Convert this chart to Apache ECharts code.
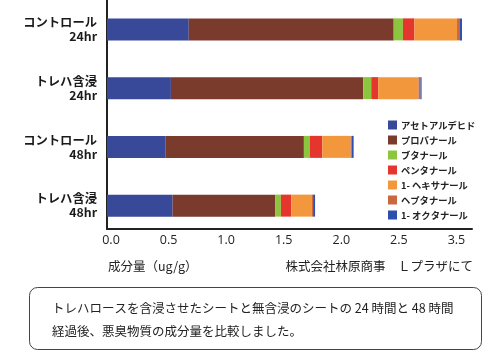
<!DOCTYPE html>
<html><head><meta charset="utf-8">
<script src="https://cdn.jsdelivr.net/npm/echarts@6/dist/echarts.min.js"></script>
<style>html,body{margin:0;padding:0;background:#fff}#c{width:500px;height:357px}</style>
</head><body><div id="c"></div>
<script>
var categories = ['コントロール\n24hr', 'トレハ含浸\n24hr', 'コントロール\n48hr', 'トレハ含浸\n48hr'];
var seriesNames = ['アセトアルデヒド', 'プロパナール', 'ブタナール', 'ペンタナール', '1- ヘキサナール', 'ヘプタナール', '1- オクタナール'];
var acetaldehyde = [0.71, 0.555, 0.51, 0.57];
var propanal = [1.78, 1.67, 1.20, 0.89];
var butanal = [0.08, 0.07, 0.05, 0.05];
var pentanal = [0.10, 0.06, 0.11, 0.09];
var hexanal = [0.37, 0.35, 0.245, 0.18];
var heptanal = [0.026, 0.017, 0.01, 0.01];
var octanal = [0.017, 0.01, 0.017, 0.017];
var tickLabels = ['0.0', '0.5', '1.0', '1.5', '2.0', '2.5', '3.5'];
var colors = ['#38499a', '#7a3a2c', '#8cc63e', '#e4362c', '#f3973d', '#c9673f', '#2c4fae'];
var valuesList = [acetaldehyde, propanal, butanal, pentanal, hexanal, heptanal, octanal];

var FONT = '"Noto Sans CJK JP", "Noto Sans", sans-serif';
var chart = echarts.init(document.getElementById('c'));
var series = seriesNames.map(function (n, i) {
  return {
    name: n, type: 'bar', stack: 'total', data: valuesList[i],
    barWidth: 22, xAxisIndex: 0, yAxisIndex: 0,
    itemStyle: { color: colors[i] }
  };
});
chart.setOption({
  animation: false,
  textStyle: { fontFamily: FONT },
  grid: [
    { left: 107, right: 28, top: -4, bottom: 122 },
    { left: 107, right: 28, top: 0, bottom: 128 }
  ],
  xAxis: [
    { gridIndex: 0, type: 'value', min: 0, max: 3.17, show: false },
    { gridIndex: 1, type: 'value', min: 0, max: 3.17, interval: 0.5,
      axisLine: { show: true, lineStyle: { color: '#222', width: 2 } },
      axisTick: { show: false }, splitLine: { show: false },
      axisLabel: { margin: 5, color: '#222', fontSize: 12.5, fontFamily: '"Open Sans", sans-serif',
        padding: [0, 0, 0, 8],
        formatter: function (v) {
          var k = Math.round(v / 0.5);
          if (Math.abs(k * 0.5 - v) > 1e-6 || k >= tickLabels.length) return '';
          return tickLabels[k];
        } } }
  ],
  yAxis: [
    { gridIndex: 0, type: 'category', data: categories, inverse: true,
      axisLine: { show: false }, axisTick: { show: false },
      axisLabel: { margin: 10, color: '#1a1a1a', fontSize: 12.3, fontWeight: 'bold', lineHeight: 14, align: 'right' } },
    { gridIndex: 1, type: 'value', min: 0, max: 1,
      axisLine: { show: true, lineStyle: { color: '#222', width: 2 } },
      axisTick: { show: false }, axisLabel: { show: false }, splitLine: { show: false } }
  ],
  legend: {
    orient: 'vertical', left: 383, top: 115,
    itemWidth: 9, itemHeight: 9, itemGap: 5, icon: 'rect',
    data: seriesNames,
    textStyle: { fontSize: 9.3, fontWeight: 'bold', color: '#222', lineHeight: 10, padding: [0, 0, 0, -1] }
  },
  series: series,
  graphic: [
    { type: 'text', left: 108, top: 260, style: { text: '成分量（ug/g）', font: '12.5px ' + FONT, fill: '#222' } },
    { type: 'text', right: 27, top: 260, style: { text: '株式会社林原商事　Ｌプラザにて', font: '12.5px ' + FONT, fill: '#222' } },
    { type: 'rect', shape: { x: 29.5, y: 287.5, width: 452, height: 62, r: 8 }, style: { fill: '#fff', stroke: '#444', lineWidth: 1 } },
    { type: 'text', left: 52, top: 297, style: { text: 'トレハロースを含浸させたシートと無含浸のシートの 24 時間と 48 時間\n経過後、悪臭物質の成分量を比較しました。', font: '12.5px ' + FONT, fill: '#222', lineHeight: 23 } }
  ]
});
</script></body></html>
